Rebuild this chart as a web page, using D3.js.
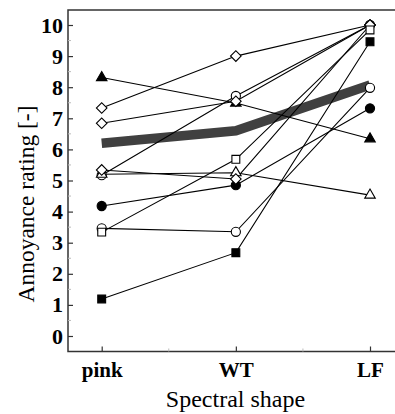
<!DOCTYPE html>
<html><head><meta charset="utf-8">
<script src="https://cdn.jsdelivr.net/npm/d3@7"></script>
<style>
body{margin:0;background:#fff}
svg text{font-family:"Liberation Serif","Times New Roman","DejaVu Serif",serif}
</style>
</head><body><svg id="chart" width="395" height="414"></svg>
<script>
// Spectral shape categories and y-axis ticks
const categories = ["pink", "WT", "LF"];
const yTicks = [0, 1, 2, 3, 4, 5, 6, 7, 8, 9, 10];
const yMinorTicks = [0.5, 1.5, 2.5, 3.5, 4.5, 5.5, 6.5, 7.5, 8.5, 9.5];

// Individual annoyance ratings per listener (pink, WT, LF)
const filledTriangle = [8.31, 7.49, 6.34];
const diamondA = [7.33, 9.0, 10.0];
const diamondB = [6.84, 7.55, 10.0];
const diamondC = [5.34, 5.05, 10.0];
const openCircleA = [5.17, 7.72, 10.0];
const openTriangle = [5.2, 5.25, 4.53];
const filledCircle = [4.18, 4.85, 7.32];
const openCircleB = [3.46, 3.35, 7.98];
const openSquare = [3.34, 5.68, 9.84];
const filledSquare = [1.19, 2.68, 9.46];

// Overall rating trend (thick line)
const overallRating = [6.2, 6.6, 8.07];

const series = [
  { values: filledTriangle, shape: "triangle", filled: true },
  { values: diamondA, shape: "diamond", filled: false },
  { values: diamondB, shape: "diamond", filled: false },
  { values: diamondC, shape: "diamond", filled: false },
  { values: openCircleA, shape: "circle", filled: false },
  { values: openTriangle, shape: "triangle", filled: false },
  { values: filledCircle, shape: "circle", filled: true },
  { values: openCircleB, shape: "circle", filled: false },
  { values: openSquare, shape: "square", filled: false },
  { values: filledSquare, shape: "square", filled: true }
];

const svg = d3.select("#chart");
const frameLeft = 68, frameTop = 10, frameRight = 396, frameBottom = 351.5;

const x = d3.scalePoint().domain(categories).range([101.7, 370]);
const y = d3.scaleLinear().domain([0, 10]).range([336, 25]);

const serif = '"Liberation Serif", "Times New Roman", "DejaVu Serif", serif';

// Frame
svg.append("rect")
  .attr("x", frameLeft).attr("y", frameTop)
  .attr("width", frameRight - frameLeft).attr("height", frameBottom - frameTop)
  .attr("fill", "none").attr("stroke", "#333").attr("stroke-width", 1.5);

// Minor ticks
svg.append("g").selectAll("line").data(yMinorTicks).join("line")
  .attr("x1", frameLeft).attr("x2", frameLeft + 3)
  .attr("y1", d => y(d)).attr("y2", d => y(d))
  .attr("stroke", "#bbb").attr("stroke-width", 1);
const xMid = d3.pairs(categories).map(([a, b]) => (x(a) + x(b)) / 2);
svg.append("g").selectAll("line").data(xMid).join("line")
  .attr("x1", d => d).attr("x2", d => d)
  .attr("y1", frameBottom).attr("y2", frameBottom - 3)
  .attr("stroke", "#bbb").attr("stroke-width", 1);

// Y axis
const yAxis = svg.append("g").attr("transform", `translate(${frameLeft},0)`)
  .call(d3.axisLeft(y).tickValues(yTicks).tickSize(-5).tickPadding(5).tickFormat(d3.format("d")));
yAxis.attr("font-family", null);
yAxis.select(".domain").remove();
yAxis.selectAll(".tick line").attr("stroke", "#333").attr("stroke-width", 1.2);
yAxis.selectAll(".tick text")
  .style("font-family", serif).style("font-size", "22px").style("font-weight", "bold").attr("fill", "#000");

// X axis
const xAxis = svg.append("g").attr("transform", `translate(0,${frameBottom})`)
  .call(d3.axisBottom(x).tickSize(-5).tickPadding(11));
xAxis.attr("font-family", null);
xAxis.select(".domain").remove();
xAxis.selectAll(".tick line").attr("stroke", "#333").attr("stroke-width", 1.2);
xAxis.selectAll(".tick text")
  .style("font-family", serif).style("font-size", "21px").style("font-weight", "bold").attr("fill", "#000");

// Axis titles
svg.append("text")
  .attr("transform", "translate(33.5,204) rotate(-90)")
  .attr("text-anchor", "middle")
  .style("font-family", serif).style("font-size", "23.5px").attr("fill", "#000")
  .text("Annoyance rating [-]");
svg.append("text")
  .attr("x", 235.5).attr("y", 406.5)
  .attr("text-anchor", "middle")
  .style("font-family", serif).style("font-size", "24px").attr("fill", "#000")
  .text("Spectral shape");

const line = d3.line().x((d, i) => x(categories[i])).y(d => y(d));

// Thick overall line
svg.append("path")
  .attr("d", line(overallRating))
  .attr("fill", "none").attr("stroke", "#404040").attr("stroke-width", 9.5);

// Individual lines
svg.append("g").selectAll("path").data(series).join("path")
  .attr("d", d => line(d.values))
  .attr("fill", "none").attr("stroke", "#000").attr("stroke-width", 1.1);

// Markers
const symbolFor = {
  circle: d3.symbol(d3.symbolCircle, 66),
  triangle: d3.symbol(d3.symbolTriangle, 48),
  diamond: d3.symbol(d3.symbolSquare, 56),
  square: d3.symbol(d3.symbolSquare, 62)
};
const order = ["circle", "triangle", "diamond", "square"];
const points = [];
series.forEach(s => s.values.forEach((v, i) => points.push({ cat: categories[i], v, shape: s.shape, filled: s.filled })));
points.sort((a, b) => order.indexOf(a.shape) - order.indexOf(b.shape));

svg.append("g").selectAll("path").data(points).join("path")
  .attr("d", d => symbolFor[d.shape]())
  .attr("transform", d => `translate(${x(d.cat)},${y(d.v)})` + (d.shape === "diamond" ? " rotate(45)" : ""))
  .attr("fill", d => d.filled ? "#000" : "#fff")
  .attr("stroke", "#000").attr("stroke-width", 1.1);
</script>
</body></html>
